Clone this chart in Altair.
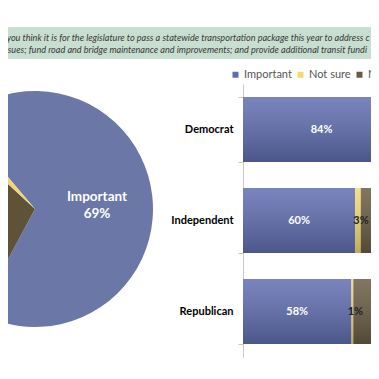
import altair as alt
import pandas as pd

responses = ["Important", "Not sure", "Not important"]
resp_colors = ["#5f6db0", "#f4dc6c", "#6a5c44"]

pie_responses = ["Important", "Not important", "Not sure"]
pie_values = [69, 29, 2]
pie_colors = ["#6b77a6", "#5e5238", "#f3d37a"]

groups = ["Democrat", "Independent", "Republican"]
important = [84, 60, 58]
not_sure = [1, 3, 1]
not_important = [15, 37, 41]

title_lines = [
    "o you think it is for the legislature to pass a statewide transportation package this year to address c",
    "issues; fund road and bridge maintenance and improvements; and provide additional transit fundi",
]

bar_rows = []
for g, a, b, c in zip(groups, important, not_sure, not_important):
    for i, (r, v) in enumerate(zip(responses, [a, b, c])):
        bar_rows.append({"group": g, "response": r, "value": v, "ord": i})
bars_df = pd.DataFrame(bar_rows)

pie_df = pd.DataFrame({"pr": pie_responses, "pv": pie_values, "po": list(range(len(pie_responses)))})
title_df = pd.DataFrame({"line": title_lines, "ln": list(range(len(title_lines)))})

X0 = 235
xscale = alt.Scale(domain=[0, 100], range=[X0, X0 + 187])
yscale = alt.Scale(domain=groups, range=[76, 349], paddingInner=0.2857, paddingOuter=0.1429)

band = alt.Chart(pd.DataFrame({"a": [0]})).mark_rect(color="#c8ded0").encode(
    x=alt.value(-10), x2=alt.value(375), y=alt.value(19), y2=alt.value(51)
)

title_text = alt.Chart(title_df).mark_text(
    align="left", baseline="middle", font="Lato", fontStyle="italic", fontSize=9.1, color="#383838"
).encode(
    text="line:N",
    x=alt.X("ln:Q", scale=alt.Scale(domain=[0, 1], range=[-8, -6]), axis=None),
    y=alt.Y("ln:Q", scale=alt.Scale(domain=[0, 1], range=[30, 42]), axis=None),
)

start = -0.70
pie = alt.Chart(pie_df).mark_arc(outerRadius=118).encode(
    theta=alt.Theta("pv:Q", stack=True, scale=alt.Scale(range=[start, start + 6.28319])),
    order=alt.Order("po:Q"),
    color=alt.Color("pr:N", scale=alt.Scale(domain=pie_responses, range=pie_colors), legend=None),
    x=alt.value(27),
    y=alt.value(201),
)

pie_label = alt.Chart(pie_df).transform_filter(
    alt.datum.pr == "Important"
).transform_calculate(
    lab=alt.datum.pr + "\n" + alt.datum.pv + "%"
).mark_text(
    font="Lato", fontWeight="bold", fontSize=13.5, color="white", lineBreak="\n", lineHeight=17,
    align="center", baseline="middle"
).encode(text="lab:N", x=alt.value(89), y=alt.value(189))

base = alt.Chart(bars_df).transform_stack(
    stack="value", groupby=["group"], as_=["x0", "x1"], sort=[alt.SortField("ord")]
).transform_calculate(mid="(datum.x0 + datum.x1) / 2")

bars = base.mark_bar().encode(
    x=alt.X("x0:Q", scale=xscale, axis=None),
    x2="x1:Q",
    y=alt.Y("group:N", scale=yscale, sort=groups, title=None, axis=alt.Axis(
        offset=-X0, tickBand="extent", domainColor="#c8c8c8", tickColor="#c8c8c8", tickSize=5,
        labelFont="Lato", labelFontWeight="bold", labelFontSize=11, labelColor="black",
        labelPadding=5, domainWidth=1)),
    color=alt.Color("response:N", scale=alt.Scale(domain=responses, range=resp_colors), sort=responses,
                    legend=alt.Legend(title=None, orient="none", legendX=222, legendY=61,
                                      direction="horizontal", symbolType="square", symbolSize=36,
                                      symbolStrokeWidth=0, labelFont="Lato", labelFontSize=11,
                                      labelColor="#555555", columnPadding=3, labelOffset=3)),
)

overlay = base.mark_bar(fill={
    "gradient": "linear", "x1": 0, "y1": 0, "x2": 0, "y2": 1,
    "stops": [{"offset": 0, "color": "rgba(255,255,255,0.16)"},
              {"offset": 1, "color": "rgba(0,0,0,0.22)"}]
}).encode(
    x=alt.X("x0:Q", scale=xscale, axis=None), x2="x1:Q",
    y=alt.Y("group:N", scale=yscale, sort=groups, axis=None),
)

imp_labels = base.transform_filter(alt.datum.response == "Important").transform_calculate(
    lab=alt.datum.value + "%"
).mark_text(font="Lato", fontSize=11, fontWeight="bold", color="white", baseline="middle").encode(
    x=alt.X("mid:Q", scale=xscale, axis=None),
    y=alt.Y("group:N", scale=yscale, sort=groups, axis=None),
    text="lab:N",
)

ns_labels = base.transform_filter(alt.datum.response == "Not sure").transform_calculate(
    lab=alt.datum.value + "%"
).mark_text(font="Lato", fontSize=11, fontWeight="bold", color="#222222", baseline="middle", dx=3).encode(
    x=alt.X("mid:Q", scale=xscale, axis=None),
    y=alt.Y("group:N", scale=yscale, sort=groups, axis=None),
    text="lab:N",
)

chart = alt.layer(
    band, title_text, pie, pie_label, bars, overlay, imp_labels, ns_labels
).resolve_scale(color="independent", x="independent", y="independent").properties(
    width=363, height=363, autosize="none", padding=0
).configure_view(stroke=None)

chart.save("out.html", embed_options={"renderer": "svg", "actions": False})
